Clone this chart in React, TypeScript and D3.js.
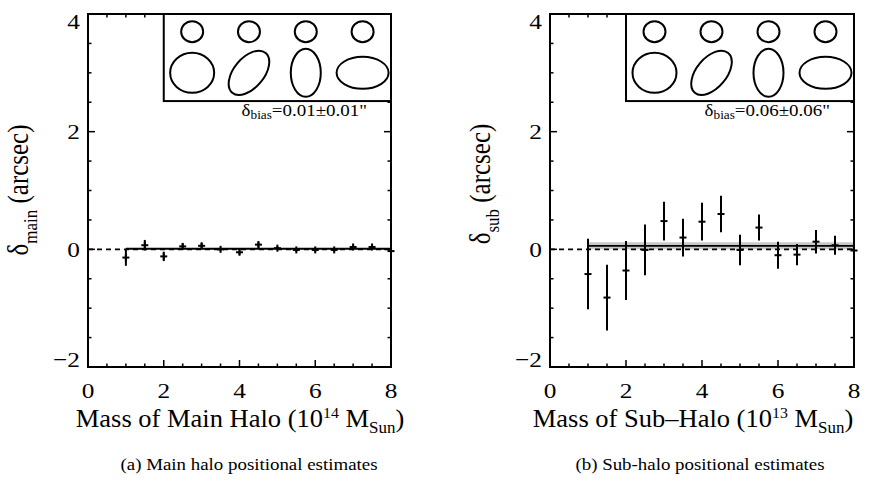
import React from 'react';
import * as d3 from 'd3';

// mass bins shared by both panels
const massBins = [1, 1.5, 2, 2.5, 3, 3.5, 4, 4.5, 5, 5.5, 6, 6.5, 7, 7.5, 8];

// (a) main halo offsets and 1-sigma errors (arcsec)
const mainOffset = [-0.14, 0.07, -0.12, 0.05, 0.06, 0.0, -0.05, 0.08, 0.02, -0.01, -0.01, -0.01, 0.04, 0.04, -0.03];
const mainError = [0.14, 0.09, 0.08, 0.05, 0.05, 0.03, 0.04, 0.05, 0.03, 0.03, 0.03, 0.03, 0.03, 0.03, 0.03];

// (b) sub-halo offsets and errors (arcsec)
const subOffset = [-0.42, -0.82, -0.36, -0.01, 0.48, 0.2, 0.47, 0.6, -0.01, 0.37, -0.1, -0.09, 0.13, 0.07, -0.02];
const subError = [0.6, 0.56, 0.5, 0.43, 0.33, 0.32, 0.32, 0.31, 0.26, 0.22, 0.23, 0.18, 0.2, 0.16, 0.05];

const xTicks = [0, 2, 4, 6, 8];
const yTicks = [-2, 0, 2, 4];

const W = 869;
const H = 481;
const TOP = 14;
const BOTTOM = 367;
const FONT = "'Liberation Serif', 'Times New Roman', serif";
const SX = 1.15; // the original figure is a bit stretched sideways

// inset layout (in data units) and ellipse shapes (px)
const insetCols = [2.75, 4.25, 5.75, 7.25];
const shapes = [
  { rx: 22, ry: 20, rot: 0 },
  { rx: 26, ry: 15, rot: -50 },
  { rx: 15, ry: 24, rot: 0 },
  { rx: 26, ry: 16, rot: 0 },
];

type PanelProps = {
  x0: number;
  x1: number;
  offsets: number[];
  errors: number[];
  bias: number;
  biasErr: number;
  biasText: string;
  sub: string;
  xName: string;
  power: string;
  labelX: number;
  labelY: number;
  caption: string;
  captionX: number;
};

const Panel = (p: PanelProps) => {
  const x = d3.scaleLinear().domain([0, 8]).range([p.x0, p.x1]);
  const y = d3.scaleLinear().domain([-2, 4]).range([BOTTOM, TOP]);
  const minorX = d3.range(0, 8.01, 0.5);
  const minorY = d3.range(-2, 4.01, 0.5);
  const first = massBins[0];
  const last = massBins[massBins.length - 1];

  return (
    <g>
      {/* bias band + lines */}
      <rect x={x(first)} width={x(last) - x(first)} y={y(p.bias + p.biasErr)}
        height={Math.max(1, y(p.bias - p.biasErr) - y(p.bias + p.biasErr))} fill="#c8c8c8" />
      <line x1={x(0)} x2={x(8)} y1={y(0)} y2={y(0)} stroke="#000" strokeWidth={1.6} strokeDasharray="5,4" />
      <line x1={x(first)} x2={x(last)} y1={y(p.bias)} y2={y(p.bias)} stroke="#000" strokeWidth={1.8} />

      {/* points with error bars */}
      {massBins.map((m, i) => (
        <g key={i} stroke="#000" strokeWidth={2}>
          <line x1={x(m)} x2={x(m)} y1={y(p.offsets[i] - p.errors[i])} y2={y(p.offsets[i] + p.errors[i])} />
          <line x1={x(m) - 3.5} x2={x(m) + 3.5} y1={y(p.offsets[i])} y2={y(p.offsets[i])} />
          <line x1={x(m)} x2={x(m)} y1={y(p.offsets[i]) - 3.5} y2={y(p.offsets[i]) + 3.5} />
        </g>
      ))}

      {/* ticks */}
      <g stroke="#000" strokeWidth={1.5}>
        {minorX.map((t) => {
          const len = t % 2 === 0 ? 7 : 3.5;
          return (
            <g key={'x' + t}>
              <line x1={x(t)} x2={x(t)} y1={BOTTOM} y2={BOTTOM - len} />
              <line x1={x(t)} x2={x(t)} y1={TOP} y2={TOP + len} />
            </g>
          );
        })}
        {minorY.map((t) => {
          const len = t % 2 === 0 ? 7 : 3.5;
          return (
            <g key={'y' + t}>
              <line x1={p.x0} x2={p.x0 + len} y1={y(t)} y2={y(t)} />
              <line x1={p.x1} x2={p.x1 - len} y1={y(t)} y2={y(t)} />
            </g>
          );
        })}
      </g>

      {/* inset */}
      <rect x={x(2)} y={TOP} width={p.x1 - x(2)} height={y(2.52) - TOP} fill="#fff" stroke="#000" strokeWidth={2} />
      {insetCols.map((c, i) => (
        <g key={'e' + i} fill="none" stroke="#000" strokeWidth={2}>
          <ellipse cx={x(c)} cy={y(3.7)} rx={11} ry={10.5} />
          <ellipse cx={0} cy={0} rx={shapes[i].rx} ry={shapes[i].ry}
            transform={`translate(${x(c)},${y(3.0)}) rotate(${shapes[i].rot})`} />
        </g>
      ))}
      <text transform={`translate(${p.x1 - 24},116) scale(${SX},1)`} textAnchor="end" fontSize={16.5} fontFamily={FONT}>
        δ<tspan fontSize={11.5} dy={3}>bias</tspan><tspan dy={-3}>{p.biasText}</tspan>
      </text>

      {/* frame */}
      <rect x={p.x0} y={TOP} width={p.x1 - p.x0} height={BOTTOM - TOP} fill="none" stroke="#000" strokeWidth={2} />

      {/* tick labels */}
      {xTicks.map((t) => (
        <text key={'xl' + t} transform={`translate(${x(t)},398) scale(${SX},1)`} textAnchor="middle" fontSize={22} fontFamily={FONT}>
          {t}
        </text>
      ))}
      {yTicks.map((t) => (
        <text key={'yl' + t}
          transform={`translate(${p.x0 - 8},${Math.min(Math.max(y(t), TOP + 8), BOTTOM - 7)}) scale(${SX},1)`}
          textAnchor="end" dominantBaseline="central" fontSize={22} fontFamily={FONT}>
          {t < 0 ? '\u2212' + Math.abs(t) : t}
        </text>
      ))}

      {/* axis titles */}
      <text transform={`translate(${p.labelX},427) scale(1.06,1)`} textAnchor="middle" fontSize={25} fontFamily={FONT}>
        {p.xName} (10<tspan fontSize={15} dy={-9}>{p.power}</tspan><tspan dy={9}> M</tspan>
        <tspan fontSize={16} dy={6}>Sun</tspan><tspan dy={-6}>)</tspan>
      </text>
      <text transform={`translate(${p.x0 - 60},${p.labelY}) scale(${SX},1) rotate(-90)`} textAnchor="middle" fontSize={25} fontFamily={FONT}>
        δ<tspan fontSize={17} dy={8}>{p.sub}</tspan><tspan dy={-8}> (arcsec)</tspan>
      </text>

      {/* caption */}
      <text transform={`translate(${p.captionX},470) scale(1.08,1)`} textAnchor="middle" fontSize={17.5} fontFamily={FONT}>
        {p.caption}
      </text>
    </g>
  );
};

const App = () => (
  <svg width={W} height={H} style={{ position: 'absolute', left: 0, top: 0, background: '#fff' }}>
    <Panel x0={88} x1={391} offsets={mainOffset} errors={mainError} bias={0.01} biasErr={0.01}
      biasText={'=0.01\u00b10.01"'} sub="main" xName="Mass of Main Halo" power="14" labelX={240} labelY={190}
      caption="(a) Main halo positional estimates" captionX={249} />
    <Panel x0={550} x1={854} offsets={subOffset} errors={subError} bias={0.06} biasErr={0.06}
      biasText={'=0.06\u00b10.06"'} sub="sub" xName={'Mass of Sub\u2013Halo'} power="13" labelX={693} labelY={184}
      caption="(b) Sub-halo positional estimates" captionX={700} />
  </svg>
);

export default App;
